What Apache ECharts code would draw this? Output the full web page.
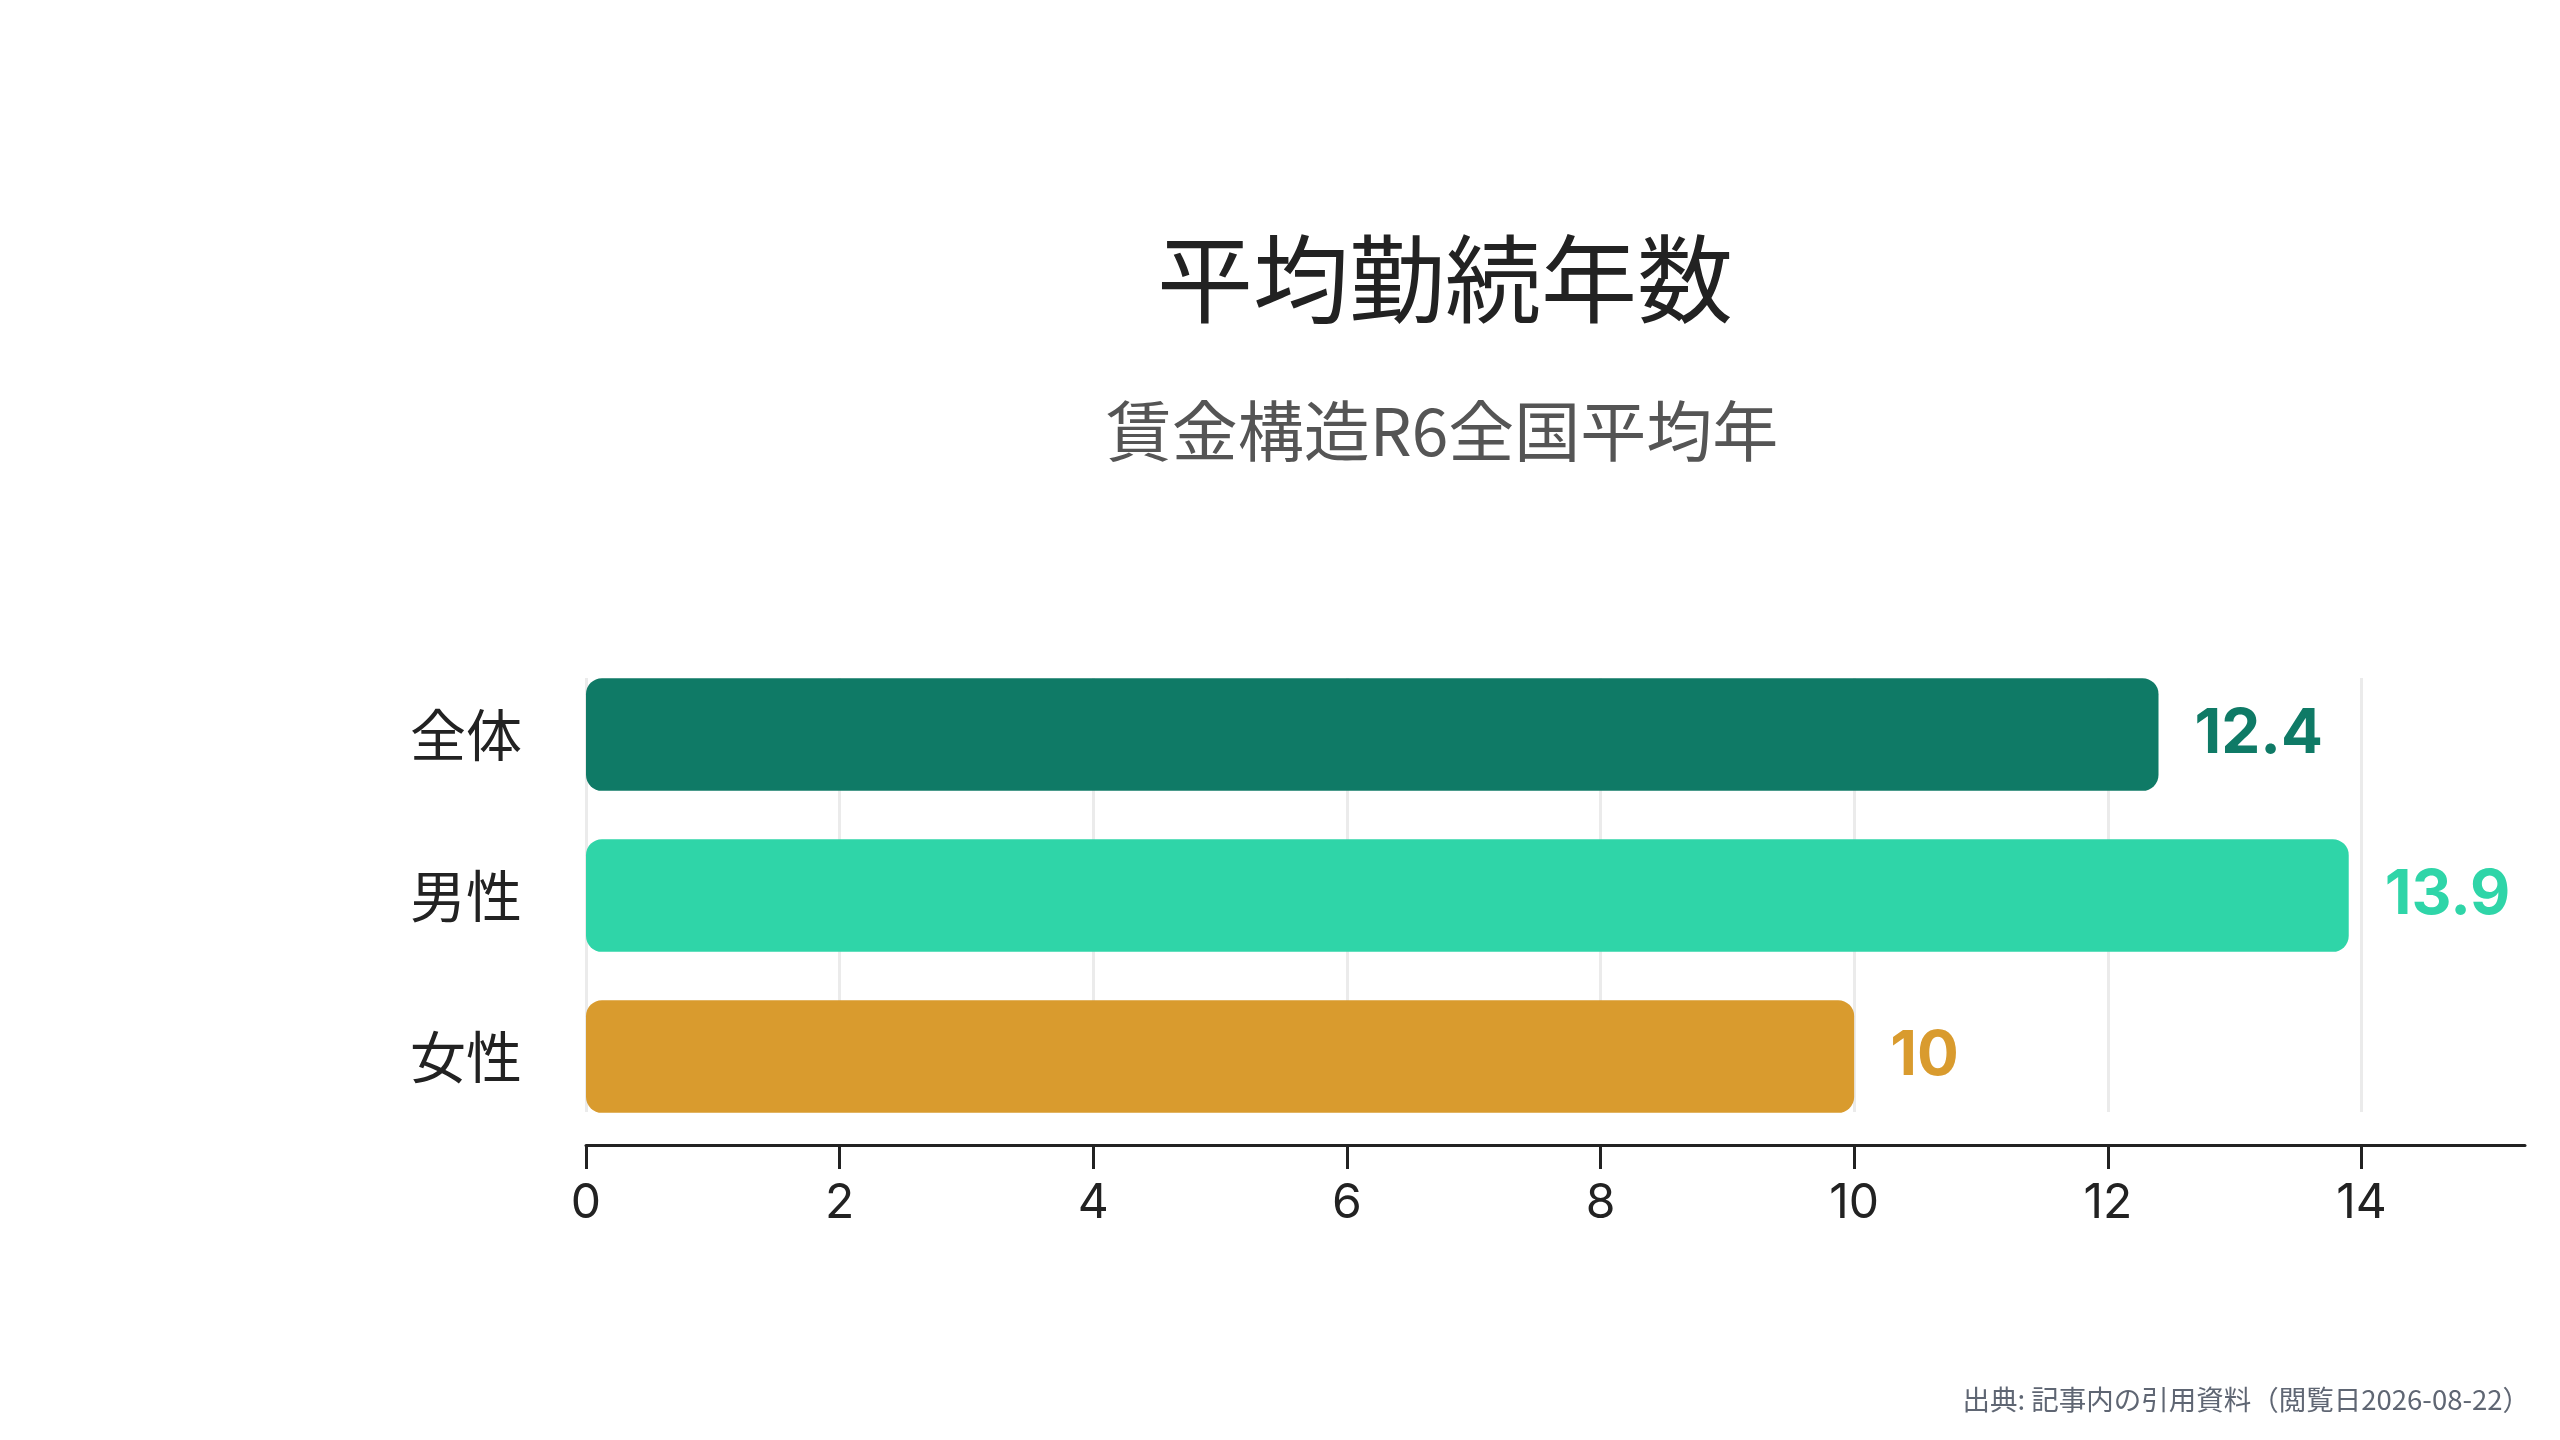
<!DOCTYPE html>
<html>
<head>
<meta charset="utf-8">
<script src="https://cdn.jsdelivr.net/npm/echarts@6/dist/echarts.min.js"></script>
<style>
html,body{margin:0;padding:0;background:#fff;}
#chart{width:2560px;height:1440px;}
</style>
</head>
<body>
<div id="chart"></div>
<script>
const titleText = '平均勤続年数';
const subtitleText = '賃金構造R6全国平均年';
const sourceText = '出典: 記事内の引用資料（閲覧日2026-08-22）';
const categories = ['全体', '男性', '女性'];
const values = [12.4, 13.9, 10];
const barColors = ['#0f7a66', '#2fd5a8', '#d99b2e'];
const xTicks = [0, 2, 4, 6, 8, 10, 12, 14];
const xMax = 15.29;

const cjk = '"Noto Sans CJK JP", "Noto Sans", sans-serif';
const num = 'Inter, "Noto Sans", sans-serif';

const chart = echarts.init(document.getElementById('chart'), null, {renderer: 'canvas'});
const plotLeft = 586, plotRight = 35;
const unitPx = (2560 - plotLeft - plotRight) / xMax;
const gridRight2 = 2560 - plotLeft - unitPx * xTicks[xTicks.length - 1];

chart.setOption({
  backgroundColor: '#ffffff',
  animation: false,
  graphic: [
    {type: 'text', x: 1445, y: 279, style: {text: titleText, font: '400 96px ' + cjk, fill: '#222222', align: 'center', verticalAlign: 'middle'}},
    {type: 'text', x: 1442, y: 431, style: {text: subtitleText, font: '400 66px ' + cjk, fill: '#555555', align: 'center', verticalAlign: 'middle'}},
    {type: 'text', x: 2530, y: 1400, style: {text: sourceText, font: '400 27.5px ' + cjk, fill: '#5f6673', align: 'right', verticalAlign: 'middle'}}
  ],
  grid: [
    {left: plotLeft, right: plotRight, top: 654, height: 483, containLabel: false},
    {left: plotLeft, right: gridRight2, top: 678, height: 434, containLabel: false}
  ],
  xAxis: [
    {
      type: 'value', gridIndex: 0, min: 0, max: xMax, interval: 2, offset: 8,
      axisLine: {show: true, lineStyle: {color: '#222222', width: 3}},
      axisTick: {show: true, length: 24, lineStyle: {color: '#222222', width: 3}, customValues: xTicks},
      axisLabel: {show: true, fontSize: 48, color: '#222222', fontFamily: num, margin: 35, customValues: xTicks},
      splitLine: {show: false}
    },
    {
      type: 'value', gridIndex: 1, min: 0, max: xTicks[xTicks.length - 1], interval: 2,
      axisLine: {show: false}, axisTick: {show: false}, axisLabel: {show: false},
      splitLine: {show: true, lineStyle: {color: '#ebebeb', width: 3}}
    }
  ],
  yAxis: [
    {
      type: 'category', gridIndex: 0, data: categories, inverse: true,
      axisLine: {show: false}, axisTick: {show: false},
      axisLabel: {fontSize: 56, color: '#222222', fontFamily: cjk, margin: 64}
    },
    {
      type: 'category', gridIndex: 1, data: categories, inverse: true, show: false
    }
  ],
  series: [{
    type: 'bar',
    xAxisIndex: 0, yAxisIndex: 0,
    barCategoryGap: '30%',
    data: values.map((v, i) => ({
      value: v,
      itemStyle: {color: barColors[i], borderRadius: 16},
      label: {color: barColors[i]}
    })),
    label: {
      show: true, position: 'right', distance: 36,
      fontSize: 62, fontWeight: 'bold', fontFamily: num
    }
  }]
});
</script>
</body>
</html>
